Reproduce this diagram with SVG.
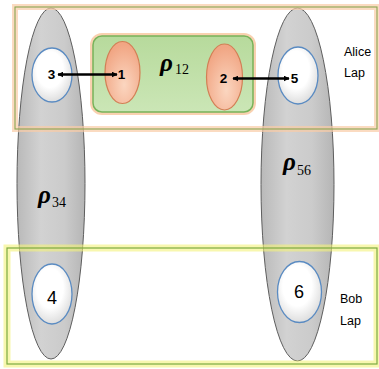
<svg xmlns="http://www.w3.org/2000/svg" width="379" height="369" viewBox="0 0 379 369">
  <defs>
    <linearGradient id="gGray" x1="0" y1="0" x2="1" y2="0">
      <stop offset="0" stop-color="#b9b9b9"/>
      <stop offset="0.35" stop-color="#d2d2d2"/>
      <stop offset="0.7" stop-color="#cbcbcb"/>
      <stop offset="1" stop-color="#b5b5b5"/>
    </linearGradient>
    <radialGradient id="gWhite" cx="0.45" cy="0.4" r="0.6">
      <stop offset="0.55" stop-color="#ffffff"/>
      <stop offset="1" stop-color="#dedede"/>
    </radialGradient>
    <radialGradient id="gOrange" cx="0.55" cy="0.7" r="0.65">
      <stop offset="0" stop-color="#fbd6c0"/>
      <stop offset="1" stop-color="#f1a684"/>
    </radialGradient>
    <linearGradient id="gGreen" x1="0" y1="0" x2="0" y2="1">
      <stop offset="0" stop-color="#b7da9c"/>
      <stop offset="1" stop-color="#cbe6b6"/>
    </linearGradient>
    <marker id="ah" viewBox="0 0 10 10" refX="9" refY="5" markerWidth="6" markerHeight="6" markerUnits="userSpaceOnUse" orient="auto-start-reverse">
      <path d="M0,0 L10,5 L0,10 z" fill="#000"/>
    </marker>
  </defs>
  <style>
    .big { fill: url(#gGray); stroke: #5e5e5e; stroke-width: 1; }
    .wnode { fill: url(#gWhite); stroke: #5a8bc2; stroke-width: 1.3; }
    .onode { fill: url(#gOrange); stroke: #d27f55; stroke-width: 1.2; }
    .num { font-family: "Liberation Sans", Arial, sans-serif; font-weight: bold; font-size: 13.5px; text-anchor: middle; fill: #000; }
    .num2 { font-family: "Liberation Sans", Arial, sans-serif; font-size: 18px; text-anchor: middle; fill: #000; }
    .lbl { font-family: "Liberation Sans", Arial, sans-serif; font-size: 12.5px; fill: #000; }
    .rho { font-family: "Liberation Serif", "DejaVu Serif", serif; font-style: italic; font-weight: bold; font-size: 25px; fill: #000; }
    .sub { font-family: "Liberation Serif", "DejaVu Serif", serif; font-size: 14px; fill: #000; }
    .conn { stroke: #000; stroke-width: 2.5; fill: none; }
  </style>
  <rect x="0" y="0" width="379" height="369" fill="#ffffff"/>

  <g id="node-rho34">
    <ellipse class="big" cx="51" cy="183.5" rx="34" ry="175.5"/>
    <text class="rho" x="38" y="203">ρ</text>
    <text class="sub" x="52" y="207">34</text>
  </g>
  <g id="node-rho56">
    <ellipse class="big" cx="297.5" cy="184.5" rx="36.5" ry="176.5"/>
    <text class="rho" x="283" y="170">ρ</text>
    <text class="sub" x="297" y="175">56</text>
  </g>

  <g id="node-alice">
    <rect x="15" y="7" width="362" height="122" fill="none" stroke="#f9cca6" stroke-width="6" stroke-opacity="0.7"/>
    <rect x="15" y="7" width="362" height="122" fill="none" stroke="#8aa552" stroke-width="1.1"/>
    <text class="lbl" x="344" y="56">Alice</text>
    <text class="lbl" x="344" y="77">Lap</text>
  </g>
  <g id="node-bob">
    <rect x="7" y="248" width="370" height="116" fill="none" stroke="#f3f27a" stroke-width="7" stroke-opacity="0.6"/>
    <rect x="7" y="248" width="370" height="116" fill="none" stroke="#7caa42" stroke-width="1.2"/>
    <text class="lbl" x="340" y="303">Bob</text>
    <text class="lbl" x="340" y="325">Lap</text>
  </g>

  <g id="node-rho12">
    <rect x="93" y="36" width="160" height="76" rx="9" fill="none" stroke="#f8c59c" stroke-width="6" stroke-opacity="0.8"/>
    <rect x="93" y="36" width="160" height="76" rx="9" fill="url(#gGreen)" stroke="#77b35a" stroke-width="1.5"/>
    <text class="rho" x="160" y="71">ρ</text>
    <text class="sub" x="175" y="74">12</text>
  </g>

  <g id="node-1">
    <ellipse class="onode" cx="122.5" cy="72.5" rx="17.5" ry="31"/>
    <text class="num" x="121.5" y="79">1</text>
  </g>
  <g id="node-2">
    <ellipse class="onode" cx="224.5" cy="77" rx="18" ry="33"/>
    <text class="num" x="223.5" y="83">2</text>
  </g>
  <g id="node-3">
    <ellipse class="wnode" cx="52" cy="75" rx="20" ry="27"/>
    <text class="num" x="51.5" y="79">3</text>
  </g>
  <g id="node-5">
    <ellipse class="wnode" cx="298" cy="75.5" rx="20" ry="28.5"/>
    <text class="num" x="294.5" y="83">5</text>
  </g>
  <g id="node-4">
    <ellipse class="wnode" cx="52" cy="294" rx="20" ry="30"/>
    <text class="num2" x="52" y="304">4</text>
  </g>
  <g id="node-6">
    <ellipse class="wnode" cx="299.5" cy="292" rx="22" ry="30.5"/>
    <text class="num2" x="299" y="298">6</text>
  </g>

  <g id="connectors">
    <line class="conn" x1="58" y1="74.5" x2="117" y2="74.5" marker-start="url(#ah)" marker-end="url(#ah)"/>
    <line class="conn" x1="233" y1="78.5" x2="289" y2="78.5" marker-start="url(#ah)" marker-end="url(#ah)"/>
  </g>
</svg>
